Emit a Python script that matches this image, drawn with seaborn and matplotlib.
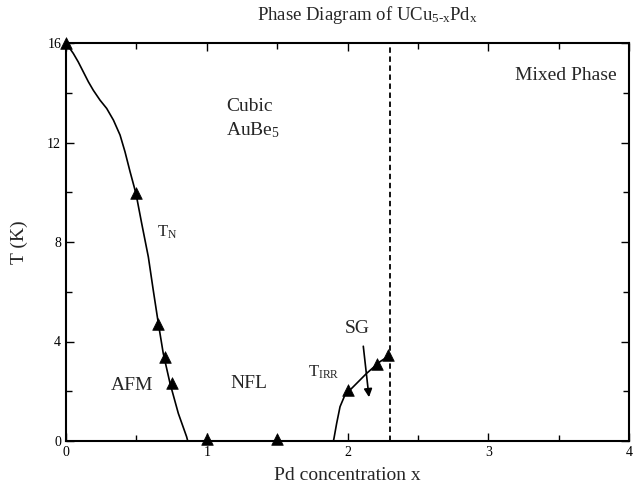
import matplotlib
matplotlib.use("Agg")
import matplotlib.pyplot as plt
import seaborn as sns
import pandas as pd
from matplotlib.ticker import MultipleLocator

# Measured transition points (triangles)
pts_x = [0.0, 0.5, 0.656, 0.70, 0.75, 1.0, 1.5, 2.0, 2.21, 2.29]
pts_T = [16.0, 9.95, 4.7, 3.36, 2.32, 0.1, 0.1, 2.05, 3.1, 3.45]

# Neel temperature boundary T_N(x)
tn_x = [0.0, 0.052, 0.087, 0.123, 0.159, 0.194, 0.242, 0.289, 0.337, 0.384,
        0.419, 0.455, 0.497, 0.538, 0.585, 0.620, 0.656, 0.691, 0.739, 0.798,
        0.857, 0.865]
tn_T = [16.0, 15.58, 15.24, 14.84, 14.44, 14.10, 13.70, 13.37, 12.90, 12.30,
        11.63, 10.83, 9.95, 8.74, 7.40, 6.06, 4.73, 3.52, 2.32, 1.11,
        0.17, 0.0]

# Irreversibility temperature boundary T_IRR(x)
tirr_x = [1.900, 1.904, 1.923, 1.947, 1.982, 2.018, 2.136, 2.231, 2.302]
tirr_T = [0.0, 0.11, 0.71, 1.38, 1.85, 2.05, 2.72, 3.19, 3.45]

# Solubility limit of the cubic phase
x_limit = 2.3

x_ticks = [0, 1, 2, 3, 4]
y_ticks = [0, 4, 8, 12, 16]

sns.set_theme(style="ticks")
plt.rcParams["font.family"] = ["Liberation Serif", "DejaVu Serif"]
plt.rcParams["mathtext.fontset"] = "custom"
plt.rcParams["mathtext.rm"] = "Liberation Serif"
plt.rcParams["mathtext.it"] = "Liberation Serif"
plt.rcParams["mathtext.default"] = "regular"

fig = plt.figure(figsize=(6.39, 4.95), dpi=100)
ax = fig.add_axes([66 / 639, 1 - 441 / 495, (629 - 66) / 639, (441 - 43) / 495])

tn = pd.DataFrame({"x": tn_x, "T": tn_T})
tirr = pd.DataFrame({"x": tirr_x, "T": tirr_T})
pts = pd.DataFrame({"x": pts_x, "T": pts_T})

sns.lineplot(data=tn, x="x", y="T", sort=False, color="black", lw=1.2, ax=ax)
sns.lineplot(data=tirr, x="x", y="T", sort=False, color="black", lw=1.2, ax=ax)
sns.scatterplot(data=pts, x="x", y="T", marker="^", s=70, color="black",
                edgecolor="black", linewidth=0.5, zorder=5, clip_on=False, ax=ax)
ax.axvline(x_limit, color="black", ls=(0, (3, 2)), lw=1.3)

ax.set_xlim(0, 4)
ax.set_ylim(0, 16)
ax.set_xticks(x_ticks)
ax.set_yticks(y_ticks)
ax.xaxis.set_minor_locator(MultipleLocator(0.5))
ax.yaxis.set_minor_locator(MultipleLocator(2))
ax.tick_params(which="both", direction="in", top=True, right=True, colors="black",
               labelsize=10, width=1)
ax.tick_params(which="major", length=6)
ax.tick_params(which="minor", length=4)
for s in ax.spines.values():
    s.set_linewidth(1.5)
    s.set_color("black")

ax.set_xlabel("Pd concentration x", fontsize=14, labelpad=6)
ax.set_ylabel("T (K)", fontsize=14, labelpad=14)

fs = 14
ax.text(1.14, 13.43, "Cubic", fontsize=fs, ha="left", va="center")
ax.text(1.14, 12.49, "AuBe$_5$", fontsize=fs, ha="left", va="center")
ax.text(0.65, 8.4, "T$_\\mathrm{N}$", fontsize=12, ha="left", va="center")
ax.text(0.47, 2.22, "AFM", fontsize=fs, ha="center", va="center")
ax.text(1.30, 2.3, "NFL", fontsize=fs, ha="center", va="center")
ax.text(1.72, 2.78, "T$_\\mathrm{IRR}$", fontsize=12, ha="left", va="center")
ax.text(2.07, 4.54, "SG", fontsize=fs, ha="center", va="center")
ax.text(3.55, 14.7, "Mixed Phase", fontsize=fs, ha="center", va="center")
ax.annotate("", xy=(2.155, 1.65), xytext=(2.11, 3.92),
            arrowprops=dict(arrowstyle="-|>", color="black", lw=1.2,
                            mutation_scale=12))

fig.text(367 / 639, 1 - 15 / 495, "Phase Diagram of UCu$_{5\\text{-}x}$Pd$_x$",
         fontsize=13.5, ha="center", va="center")

fig.savefig("out.png", dpi=100)
